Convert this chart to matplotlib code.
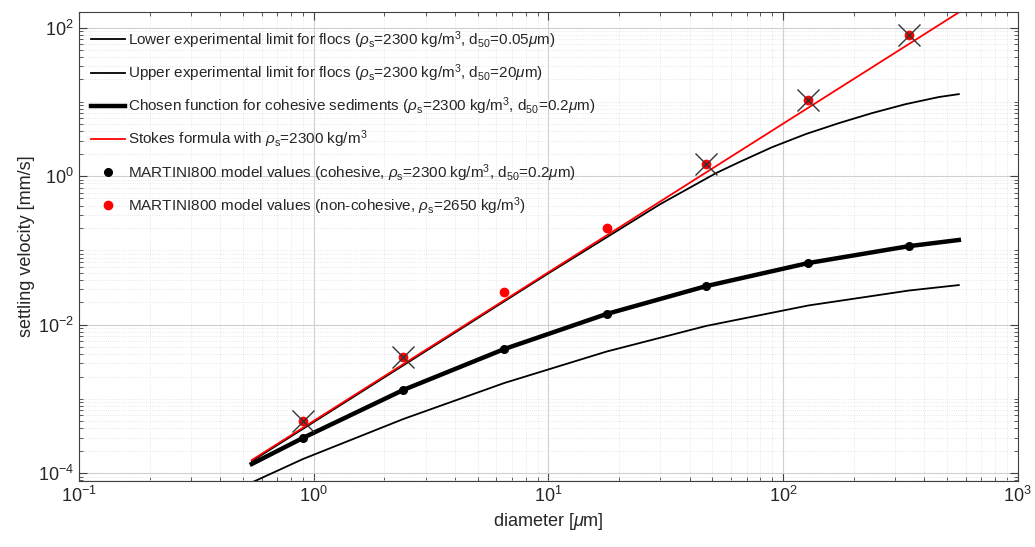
import numpy as np
import matplotlib
matplotlib.use('Agg')
import matplotlib.pyplot as plt
from matplotlib.ticker import FixedLocator, LogFormatterMathtext, NullFormatter

plt.rcParams['font.family'] = ['Liberation Sans', 'DejaVu Sans']
plt.rcParams['mathtext.fontset'] = 'custom'
plt.rcParams['mathtext.rm'] = 'Liberation Sans'
plt.rcParams['mathtext.it'] = 'Liberation Sans:italic'
plt.rcParams['mathtext.default'] = 'regular'

# curves (diameter in um, velocity in mm/s)
d_lower = [0.55, 0.90, 2.41, 6.5, 17.7, 47.0, 128, 344, 561]
w_lower = [7.6e-5, 1.55e-4, 5.36e-4, 1.64e-3, 4.34e-3, 9.6e-3, 1.81e-2, 2.88e-2, 3.41e-2]

d_upper = [0.545, 2.0, 10.0, 20.0, 30.0, 39.8, 51.9, 65.0, 89.8, 125, 173, 239, 333, 461, 561]
w_upper = [1.45e-4, 1.95e-3, 4.9e-2, 0.19, 0.42, 0.69, 1.10, 1.54, 2.45, 3.68, 5.17, 7.04, 9.31, 11.6, 12.7]

d_chosen = [0.545, 0.90, 2.41, 6.5, 17.7, 47.0, 128, 344, 561]
w_chosen = [1.33e-4, 2.98e-4, 1.32e-3, 4.7e-3, 1.39e-2, 3.3e-2, 6.75e-2, 0.114, 0.138]

d_stokes = [0.545, 561]
w_stokes = [1.5e-4, 160]

# MARTINI800 model values
d_model = [0.90, 2.41, 6.5, 17.7, 47.0, 128, 344]
w_cohesive = [2.98e-4, 1.32e-3, 4.7e-3, 1.39e-2, 3.3e-2, 6.75e-2, 0.114]
w_noncoh = [5.04e-4, 3.66e-3, 2.75e-2, 0.20, 1.45, 10.5, 79]
crossed = [0, 1, 4, 5, 6]

fig = plt.figure(figsize=(10.35, 5.47), dpi=100)
ax = fig.add_axes([0.0763, 0.1207, 0.907, 0.857])

ax.plot(d_lower, w_lower, color='k', lw=1.3,
        label=r'Lower experimental limit for flocs ($\it{\rho}_{\rm s}$=2300 kg/m$^3$, d$_{50}$=0.05$\it{\mu}$m)')
ax.plot(d_upper, w_upper, color='k', lw=1.3,
        label=r'Upper experimental limit for flocs ($\it{\rho}_{\rm s}$=2300 kg/m$^3$, d$_{50}$=20$\it{\mu}$m)')
ax.plot(d_chosen, w_chosen, color='k', lw=3.2,
        label=r'Chosen function for cohesive sediments ($\it{\rho}_{\rm s}$=2300 kg/m$^3$, d$_{50}$=0.2$\it{\mu}$m)')
ax.plot(d_stokes, w_stokes, color='r', lw=1.3,
        label=r'Stokes formula with $\it{\rho}_{\rm s}$=2300 kg/m$^3$')
ax.plot(d_model, w_cohesive, 'o', color='k', ms=5.5, ls='none',
        label=r'MARTINI800 model values (cohesive, $\it{\rho}_{\rm s}$=2300 kg/m$^3$, d$_{50}$=0.2$\it{\mu}$m)')
ax.plot(d_model, w_noncoh, 'o', color='r', ms=6, ls='none',
        label=r'MARTINI800 model values (non-cohesive, $\it{\rho}_{\rm s}$=2650 kg/m$^3$)')
ax.plot([d_model[i] for i in crossed], [w_noncoh[i] for i in crossed], 'x',
        color='#333333', ms=16, mew=1.0, ls='none')

ax.set_xscale('log')
ax.set_yscale('log')
ax.set_xlim(0.1, 1000)
ax.set_ylim(10**-4.105, 10**2.207)

ax.yaxis.set_major_locator(FixedLocator([1e-4, 1e-2, 1e0, 1e2]))
ymin = [k * 10.0**e for e in range(-5, 3) for k in range(1, 10)
        if not (k == 1 and e % 2 == 0)]
ax.yaxis.set_minor_locator(FixedLocator(ymin))
ax.yaxis.set_major_formatter(LogFormatterMathtext())
ax.yaxis.set_minor_formatter(NullFormatter())

ax.grid(True, which='major', color='#d0d0d0', lw=0.8)
ax.grid(True, which='minor', color='#e2e2e2', lw=0.6, ls=':')
ax.set_axisbelow(True)

ax.tick_params(which='both', direction='in', top=True, right=True,
               colors='#404040', labelcolor='#262626', labelsize=13)
ax.tick_params(which='major', length=6)
ax.tick_params(which='minor', length=3)
for s in ax.spines.values():
    s.set_color('#404040')
    s.set_linewidth(0.8)

ax.set_xlabel(r'diameter [$\it{\mu}$m]', fontsize=13, color='#262626', labelpad=4)
ax.set_ylabel('settling velocity [mm/s]', fontsize=13, color='#262626', labelpad=2)

leg = ax.legend(loc='upper left', frameon=False, fontsize=11, handlelength=2.2,
                handletextpad=0.2, labelspacing=0.76, borderaxespad=0.4,
                bbox_to_anchor=(0.0, 0.99))
for t in leg.get_texts():
    t.set_color('#262626')

fig.savefig('out.png', dpi=100)
